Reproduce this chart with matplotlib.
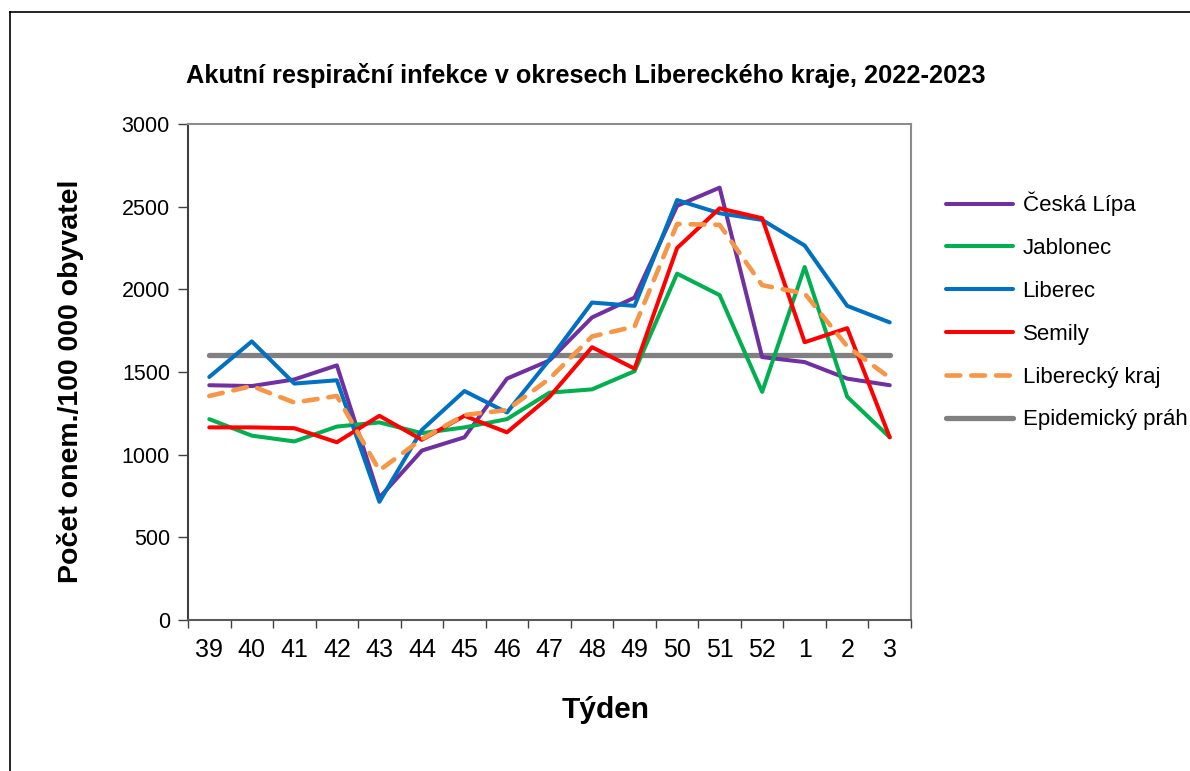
import matplotlib
matplotlib.use("Agg")
import matplotlib.pyplot as plt
from matplotlib.lines import Line2D

weeks = ["39", "40", "41", "42", "43", "44", "45", "46", "47", "48", "49", "50", "51", "52", "1", "2", "3"]
ceska_lipa = [1420, 1415, 1455, 1540, 740, 1025, 1105, 1460, 1570, 1830, 1950, 2505, 2615, 1590, 1560, 1460, 1420]
jablonec = [1215, 1115, 1080, 1170, 1195, 1130, 1165, 1215, 1375, 1395, 1505, 2095, 1965, 1380, 2135, 1350, 1105]
liberec = [1470, 1685, 1430, 1450, 715, 1150, 1385, 1255, 1575, 1920, 1900, 2540, 2460, 2420, 2265, 1900, 1800]
semily = [1165, 1165, 1160, 1075, 1235, 1090, 1235, 1135, 1350, 1650, 1520, 2250, 2490, 2430, 1680, 1765, 1105]
liberecky_kraj = [1355, 1415, 1315, 1355, 905, 1095, 1240, 1270, 1460, 1715, 1775, 2395, 2390, 2025, 1975, 1655, 1465]
prah = [1600] * 17

series_names = ["Česká Lípa", "Jablonec", "Liberec", "Semily", "Liberecký kraj", "Epidemický práh"]

plt.rcParams['font.family'] = ['Liberation Sans', 'DejaVu Sans']

fig = plt.figure(figsize=(11.9, 7.71), dpi=100)
ax = fig.add_axes([188/1190, 1 - 620/771, (911-188)/1190, (620-124)/771])

x = list(range(len(weeks)))
lw = 2.9
ax.plot(x, ceska_lipa, color="#7030A0", lw=lw, solid_capstyle="round", label=series_names[0], zorder=3)
ax.plot(x, jablonec, color="#00B050", lw=lw, solid_capstyle="round", label=series_names[1], zorder=3)
ax.plot(x, liberec, color="#0070C0", lw=lw, solid_capstyle="round", label=series_names[2], zorder=3)
ax.plot(x, semily, color="#FF0000", lw=lw, solid_capstyle="round", label=series_names[3], zorder=4)
ax.plot(x, liberecky_kraj, color="#F79646", lw=3.3, ls=(0, (3, 2.4)), dash_capstyle="round", label=series_names[4], zorder=4)
ax.plot(x, prah, color="#808080", lw=3.8, solid_capstyle="round", label=series_names[5], zorder=2)

ax.set_xlim(-0.5, len(weeks) - 0.5)
ax.set_ylim(0, 3000)
ax.set_yticks(range(0, 3001, 500))
ax.set_yticklabels([str(v) for v in range(0, 3001, 500)], fontsize=15.5)
ax.set_xticks(x)
ax.set_xticklabels(weeks, fontsize=18)
ax.set_xticks([i - 0.5 for i in range(len(weeks) + 1)], minor=True)
ax.tick_params(axis='x', which='major', length=0, pad=13)
ax.tick_params(axis='x', which='minor', length=6, width=1, color="#404040", direction='out')
ax.tick_params(axis='y', length=7, width=1, color="#404040", direction='out', pad=6)

for side in ["top", "right"]:
    ax.spines[side].set_color("#8C8C8C")
    ax.spines[side].set_linewidth(1.5)
ax.spines["left"].set_color("#404040")
ax.spines["left"].set_linewidth(1.5)
ax.spines["bottom"].set_color("#595959")
ax.spines["bottom"].set_linewidth(1.5)

ax.set_ylabel("Počet onem./100 000 obyvatel", fontsize=20.5, fontweight="bold")
ax.yaxis.set_label_coords((84 - 188) / 723, (620 - 381) / 496)
ax.set_xlabel("Týden", fontsize=21.5, fontweight="bold")
ax.xaxis.set_label_coords((606 - 188) / 723, (620 - 696) / 496)

fig.text(586/1190, 1 - 76/771, "Akutní respirační infekce v okresech Libereckého kraje, 2022-2023",
         ha="center", va="center", fontsize=18.3, fontweight="bold",
         family=['Liberation Sans Narrow', 'Liberation Sans', 'DejaVu Sans'])

handles, labels = ax.get_legend_handles_labels()
leg = fig.legend(handles, labels, loc="upper left", bbox_to_anchor=(937/1190, 1 - 183/771),
                 frameon=False, fontsize=16, handlelength=3.0, handletextpad=0.45,
                 labelspacing=0.98, borderaxespad=0)

# outer border lines (top and left)
fig.add_artist(Line2D([10/1190, 1], [1 - 12/771, 1 - 12/771], color="black", lw=1.2, transform=fig.transFigure))
fig.add_artist(Line2D([10/1190, 10/1190], [0, 1 - 12/771], color="black", lw=1.2, transform=fig.transFigure))

fig.savefig("out.png", dpi=100)
